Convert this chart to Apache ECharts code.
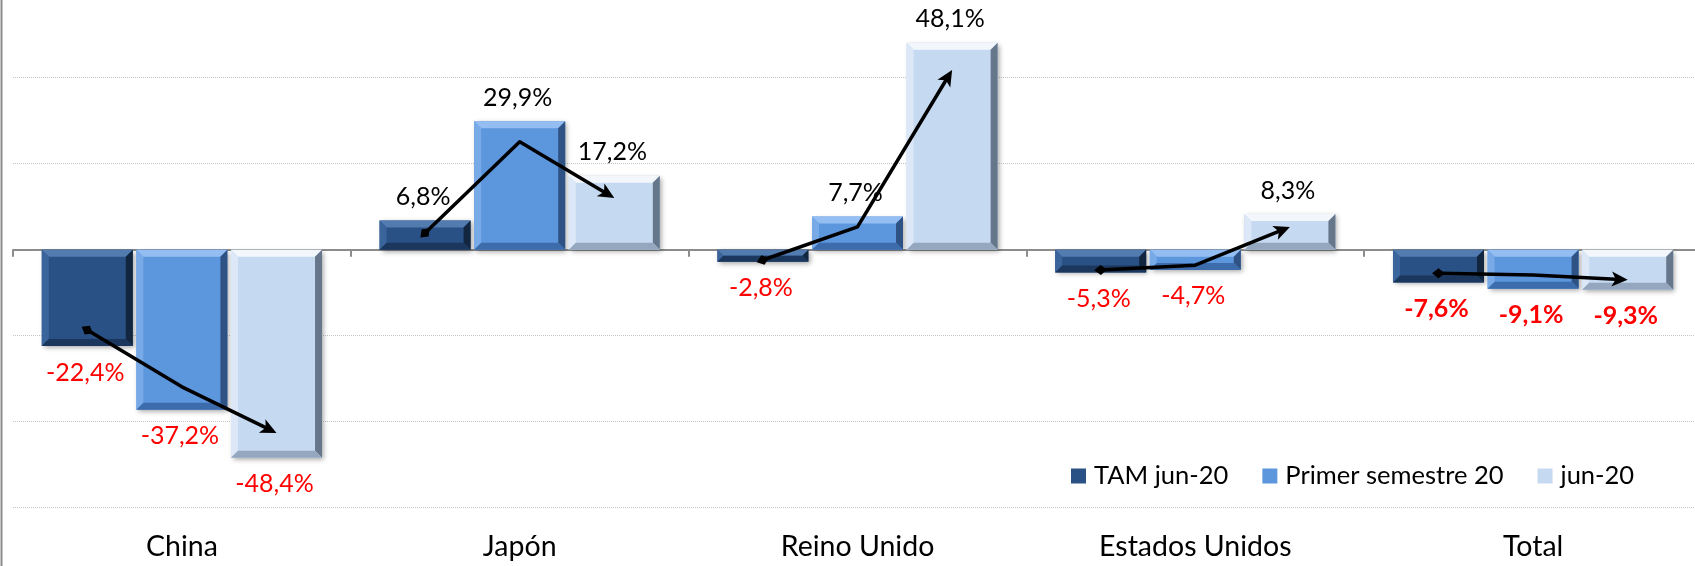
<!DOCTYPE html>
<html>
<head>
<meta charset="utf-8">
<script src="https://cdn.jsdelivr.net/npm/echarts@6/dist/echarts.min.js"></script>
<style>
  html, body { margin: 0; padding: 0; background: #ffffff; }
  #chart { width: 1695px; height: 566px; }
</style>
</head>
<body>
<div id="chart"></div>
<script>
// Categories and series values (%)
const categories = ['China', 'Japón', 'Reino Unido', 'Estados Unidos', 'Total'];
const seriesNames = ['TAM jun-20', 'Primer semestre 20', 'jun-20'];
const tamJun20 = [-22.4, 6.8, -2.8, -5.3, -7.6];
const primerSemestre20 = [-37.2, 29.9, 7.7, -4.7, -9.1];
const jun20 = [-48.4, 17.2, 48.1, 8.3, -9.3];

// Trend arrows drawn across each group: start, bend and tip levels (%)
const trendStart = [-18.7, 3.9, -2.4, -4.7, -5.5];
const trendBend = [-31.9, 25.1, 5.3, -3.6, -5.9];
const trendTip = [-42.6, 12.0, 41.8, 5.3, -7.0];

// Value axis range
const yMin = -60, yMax = 60, yStep = 20;

const FONT = 'Lato, "Open Sans", "Liberation Sans", sans-serif';

// Bevelled bar colours: face and the four edges
const palettes = [
  { face: '#2a5185', top: '#527bb0', left: '#3a659c', bottom: '#1b375d', right: '#12263f' },
  { face: '#5c96dd', top: '#94bef1', left: '#78aae8', bottom: '#3c6cab', right: '#2f5284' },
  { face: '#c5d9f0', top: '#f3f7fc', left: '#dce8f7', bottom: '#94a7be', right: '#66778c' }
];

// Bar width and spacing as fractions of one category band
const BAR_FRAC = 0.2694;
const STEP_FRAC = 0.2801;

function fmt(v) {
  return v.toFixed(1).replace('.', ',') + '%';
}

function barRenderer(si) {
  return function (params, api) {
    const cat = api.value(0);
    const v = api.value(1);
    const cw = api.size([1, 0])[0];
    const bw = cw * BAR_FRAC;
    const step = cw * STEP_FRAC;
    const base = api.coord([cat, 0]);
    const end = api.coord([cat, v]);
    const cx = base[0] + (si - 1) * step;
    const x0 = cx - bw / 2, x1 = cx + bw / 2;
    const yTop = Math.min(base[1], end[1]);
    const yBot = Math.max(base[1], end[1]);
    const h = yBot - yTop;
    const b = Math.min(7, h / 2, bw / 2);
    const p = palettes[si];
    const poly = (pts, fill) => ({ type: 'polygon', shape: { points: pts }, style: { fill: fill } });
    const children = [
      {
        type: 'rect',
        shape: { x: x0, y: yTop, width: bw, height: h },
        style: {
          fill: p.face,
          shadowBlur: 5, shadowOffsetX: 2, shadowOffsetY: 2,
          shadowColor: 'rgba(0,0,0,0.35)'
        }
      },
      poly([[x0, yTop], [x1, yTop], [x1 - b, yTop + b], [x0 + b, yTop + b]], p.top),
      poly([[x0, yTop], [x0 + b, yTop + b], [x0 + b, yBot - b], [x0, yBot]], p.left),
      poly([[x1, yTop], [x1, yBot], [x1 - b, yBot - b], [x1 - b, yTop + b]], p.right),
      poly([[x0, yBot], [x0 + b, yBot - b], [x1 - b, yBot - b], [x1, yBot]], p.bottom)
    ];
    const neg = v < 0;
    const bold = neg && cat === categories.length - 1;
    children.push({
      type: 'text',
      x: cx - 2,
      y: neg ? yBot + 14 : yTop - 11,
      z2: 10,
      style: {
        text: fmt(v),
        fontFamily: FONT,
        fontSize: 25,
        fontWeight: bold ? 'bold' : 'normal',
        fill: neg ? '#ff0000' : '#000000',
        align: 'center',
        verticalAlign: neg ? 'top' : 'bottom'
      }
    });
    return { type: 'group', children: children };
  };
}

function trendRenderer(params, api) {
  const cat = api.value(0);
  const cw = api.size([1, 0])[0];
  const step = cw * STEP_FRAC;
  const cx = api.coord([cat, 0])[0];
  const pts = [1, 2, 3].map((k, i) => [cx + (i - 1) * step, api.coord([cat, api.value(k)])[1]]);
  const tip = pts[2], prev = pts[1];
  const ang = Math.atan2(tip[1] - prev[1], tip[0] - prev[0]);
  const ca = Math.cos(ang), sa = Math.sin(ang);
  const L = 16, W = 7.5;
  const back = [tip[0] - L * ca, tip[1] - L * sa];
  const notch = [tip[0] - L * 0.75 * ca, tip[1] - L * 0.75 * sa];
  const head = [
    tip,
    [back[0] + W * sa, back[1] - W * ca],
    notch,
    [back[0] - W * sa, back[1] + W * ca]
  ];
  const s = pts[0], n1 = pts[1];
  const a0 = Math.atan2(n1[1] - s[1], n1[0] - s[0]);
  const c0 = Math.cos(a0), s0 = Math.sin(a0);
  const D = 6.5, E = 5;
  const diamond = [
    [s[0] + D * c0, s[1] + D * s0],
    [s[0] - E * s0, s[1] + E * c0],
    [s[0] - D * c0, s[1] - D * s0],
    [s[0] + E * s0, s[1] - E * c0]
  ];
  return {
    type: 'group',
    children: [
      {
        type: 'polyline',
        shape: { points: [pts[0], pts[1], notch] },
        style: { stroke: '#000000', lineWidth: 3.5, fill: null, lineJoin: 'round', lineCap: 'round' }
      },
      { type: 'polygon', shape: { points: head }, style: { fill: '#000000' } },
      { type: 'polygon', shape: { points: diamond }, style: { fill: '#000000' } }
    ]
  };
}

const seriesValues = [tamJun20, primerSemestre20, jun20];

const series = seriesValues.map((vals, si) => ({
  name: seriesNames[si],
  type: 'custom',
  xAxisIndex: 0,
  yAxisIndex: 0,
  renderItem: barRenderer(si),
  itemStyle: { color: palettes[si].face },
  encode: { x: 0, y: 1 },
  data: vals.map((v, i) => [i, v]),
  z: 2
}));

series.push({
  name: 'trend',
  type: 'custom',
  xAxisIndex: 0,
  yAxisIndex: 0,
  renderItem: trendRenderer,
  encode: { x: 0, y: [1, 2, 3] },
  data: categories.map((c, i) => [i, trendStart[i], trendBend[i], trendTip[i]]),
  z: 5,
  silent: true
});

const chart = echarts.init(document.getElementById('chart'), null, { renderer: 'canvas' });

chart.setOption({
  animation: false,
  backgroundColor: '#ffffff',
  // plot area runs slightly past the top and right edges of the canvas
  grid: {
    left: 13, top: -8.3, width: 1689, height: 516,
    outerBoundsMode: 'none', containLabel: false
  },
  legend: {
    data: seriesNames,
    left: 1066,
    top: 458,
    icon: 'rect',
    itemWidth: 15,
    itemHeight: 15,
    itemGap: 34,
    textStyle: { fontFamily: FONT, fontSize: 25.5, color: '#000000', padding: [0, 0, 0, 3] }
  },
  xAxis: [
    {
      type: 'category',
      data: categories,
      position: 'bottom',
      axisLine: { onZero: true, lineStyle: { color: '#8c8c8c', width: 2 } },
      axisTick: { show: true, length: 7, lineStyle: { color: '#8c8c8c', width: 2 } },
      axisLabel: { show: false },
      splitLine: { show: false }
    },
    {
      type: 'category',
      data: categories,
      position: 'bottom',
      axisLine: { show: false, onZero: false },
      axisTick: { show: false },
      axisLabel: { margin: 25, fontFamily: FONT, fontSize: 28.5, color: '#000000' },
      splitLine: { show: false }
    }
  ],
  yAxis: {
    type: 'value',
    min: yMin,
    max: yMax,
    interval: yStep,
    axisLabel: { show: false },
    axisLine: { show: false },
    axisTick: { show: false },
    splitLine: { lineStyle: { color: '#c4c4c4', type: 'dotted', width: 1 } }
  },
  graphic: [
    {
      type: 'line',
      shape: { x1: 1.5, y1: 0, x2: 1.5, y2: 566 },
      style: { stroke: '#8c8c8c', lineWidth: 2 }
    }
  ],
  series: series
});
</script>
</body>
</html>
